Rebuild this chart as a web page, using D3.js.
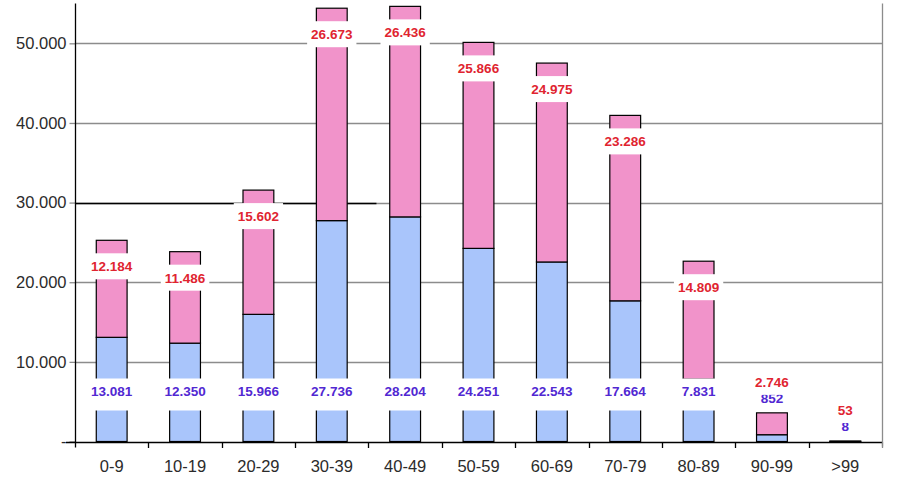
<!DOCTYPE html>
<html>
<head>
<meta charset="utf-8">
<script src="https://cdn.jsdelivr.net/npm/d3@7"></script>
<style>
  body { margin: 0; background: #fff; }
  svg { display: block; font-family: Arial, "Liberation Sans", sans-serif; }
</style>
</head>
<body>
<svg width="901" height="481"></svg>
<script>
'use strict'

const categories = ['0-9', '10-19', '20-29', '30-39', '40-49', '50-59', '60-69', '70-79', '80-89', '90-99', '>99'];
const blueValues = [13081, 12350, 15966, 27736, 28204, 24251, 22543, 17664, 7831, 852, 8];
const pinkValues = [12184, 11486, 15602, 26673, 26436, 25866, 24975, 23286, 14809, 2746, 53];
const yTicks = [0, 10000, 20000, 30000, 40000, 50000];

const W = 901;
const H = 481;
const margin = { top: 3.5, right: 19, bottom: 39.5, left: 75 };

const svg = d3.select('svg');
const locale = d3.formatLocale({ decimal: ',', thousands: '.', grouping: [3], currency: ['', ''] });
const fmt = locale.format(',d');

const x = d3.scaleBand()
  .domain(categories)
  .range([margin.left, W - margin.right])
  .paddingInner(0.58)
  .paddingOuter(0.29);

const y = d3.scaleLinear()
  .domain([0, 55000])
  .range([H - margin.bottom, margin.top]);

const rows = categories.map((c, i) => ({ cat: c, blue: blueValues[i], pink: pinkValues[i] }));

const step = (W - margin.right - margin.left) / categories.length;
const edges = d3.range(categories.length + 1).map(i => margin.left + i * step);

// gridlines
svg.append('g')
  .selectAll('line')
  .data(yTicks.filter(d => d > 0))
  .join('line')
  .attr('x1', margin.left)
  .attr('x2', W - margin.right)
  .attr('y1', d => Math.round(y(d)) + 0.5)
  .attr('y2', d => Math.round(y(d)) + 0.5)
  .attr('stroke', '#8c8c8c')
  .attr('stroke-width', 1.3);

// dark piece of the 30.000 line
svg.append('line')
  .attr('x1', margin.left)
  .attr('x2', edges[4] + 8)
  .attr('y1', Math.round(y(30000)) + 0.5)
  .attr('y2', Math.round(y(30000)) + 0.5)
  .attr('stroke', '#000')
  .attr('stroke-width', 1.3);

// right border
svg.append('line')
  .attr('x1', W - margin.right + 0.5)
  .attr('x2', W - margin.right + 0.5)
  .attr('y1', margin.top)
  .attr('y2', H - margin.bottom + 5)
  .attr('stroke', '#8c8c8c')
  .attr('stroke-width', 1.3);

// bars
const bars = svg.append('g');
bars.selectAll('rect.blue')
  .data(rows)
  .join('rect')
  .attr('class', 'blue')
  .attr('x', d => x(d.cat))
  .attr('width', x.bandwidth())
  .attr('y', d => y(d.blue))
  .attr('height', d => y(0) - y(d.blue))
  .attr('fill', '#a9c5fb')
  .attr('stroke', '#000')
  .attr('stroke-width', 1.2);

bars.selectAll('rect.pink')
  .data(rows)
  .join('rect')
  .attr('class', 'pink')
  .attr('x', d => x(d.cat))
  .attr('width', x.bandwidth())
  .attr('y', d => y(d.blue + d.pink))
  .attr('height', d => y(d.blue) - y(d.blue + d.pink))
  .attr('fill', '#f193ca')
  .attr('stroke', '#000')
  .attr('stroke-width', 1.2);

// labels
function labelPos(d) {
  const top = y(d.blue + d.pink);
  const small = (y(d.blue) - top) < 40;
  if (small) return { pink: top - 31, blue: top - 15, small };
  return { pink: top + 26, blue: y(0) - 50, small };
}

const labels = svg.append('g')
  .attr('font-size', 13.5)
  .attr('font-weight', 'bold')
  .attr('text-anchor', 'middle');

rows.forEach(d => {
  const p = labelPos(d);
  const cx = x(d.cat) + x.bandwidth() / 2;
  [['blue', '#5128d2'], ['pink', '#e02430']].forEach(([k, col]) => {
    const g = labels.append('g');
    const t = g.append('text')
      .attr('x', cx)
      .attr('y', p[k])
      .attr('dy', '0.36em')
      .attr('fill', col)
      .text(fmt(d[k]));
    const w = t.node().getComputedTextLength();
    const below = (k === 'blue' && !p.small) ? 19 : 13;
    g.insert('rect', 'text')
      .attr('x', cx - w / 2 - 4)
      .attr('y', p[k] - 13)
      .attr('width', w + 8)
      .attr('height', 13 + below)
      .attr('fill', '#fff');
  });
});

// y axis
const yAxis = svg.append('g')
  .attr('transform', `translate(${margin.left + 0.5},0)`)
  .call(d3.axisLeft(y)
    .tickValues(yTicks)
    .tickSize(6)
    .tickPadding(3)
    .tickFormat(d => d === 0 ? '-' : fmt(d)));
yAxis.select('.domain').remove();
yAxis.selectAll('.tick line').attr('stroke', '#8c8c8c').attr('stroke-width', 1.3);
yAxis.selectAll('.tick text')
  .attr('font-size', 16.5)
  .attr('font-family', 'Arial, "Liberation Sans", sans-serif')
  .attr('fill', '#2b2b2b');

svg.append('line')
  .attr('x1', margin.left + 0.5)
  .attr('x2', margin.left + 0.5)
  .attr('y1', margin.top)
  .attr('y2', H - margin.bottom + 6)
  .attr('stroke', '#000')
  .attr('stroke-width', 1.3);

// x axis
svg.append('line')
  .attr('x1', margin.left - 9)
  .attr('x2', W - margin.right)
  .attr('y1', Math.round(y(0)) + 0.5)
  .attr('y2', Math.round(y(0)) + 0.5)
  .attr('stroke', '#000')
  .attr('stroke-width', 1.3);

svg.append('g')
  .selectAll('line')
  .data(edges.slice(1))
  .join('line')
  .attr('x1', d => Math.round(d) + 0.5)
  .attr('x2', d => Math.round(d) + 0.5)
  .attr('y1', Math.round(y(0)))
  .attr('y2', Math.round(y(0)) + 6)
  .attr('stroke', (d, i) => i === categories.length - 1 ? '#8c8c8c' : '#000')
  .attr('stroke-width', 1.3);

svg.append('g')
  .selectAll('text')
  .data(categories)
  .join('text')
  .attr('x', d => x(d) + x.bandwidth() / 2)
  .attr('y', H - margin.bottom + 30)
  .attr('text-anchor', 'middle')
  .attr('font-size', 16.5)
  .attr('fill', '#2b2b2b')
  .text(d => d);
</script>
</body>
</html>
